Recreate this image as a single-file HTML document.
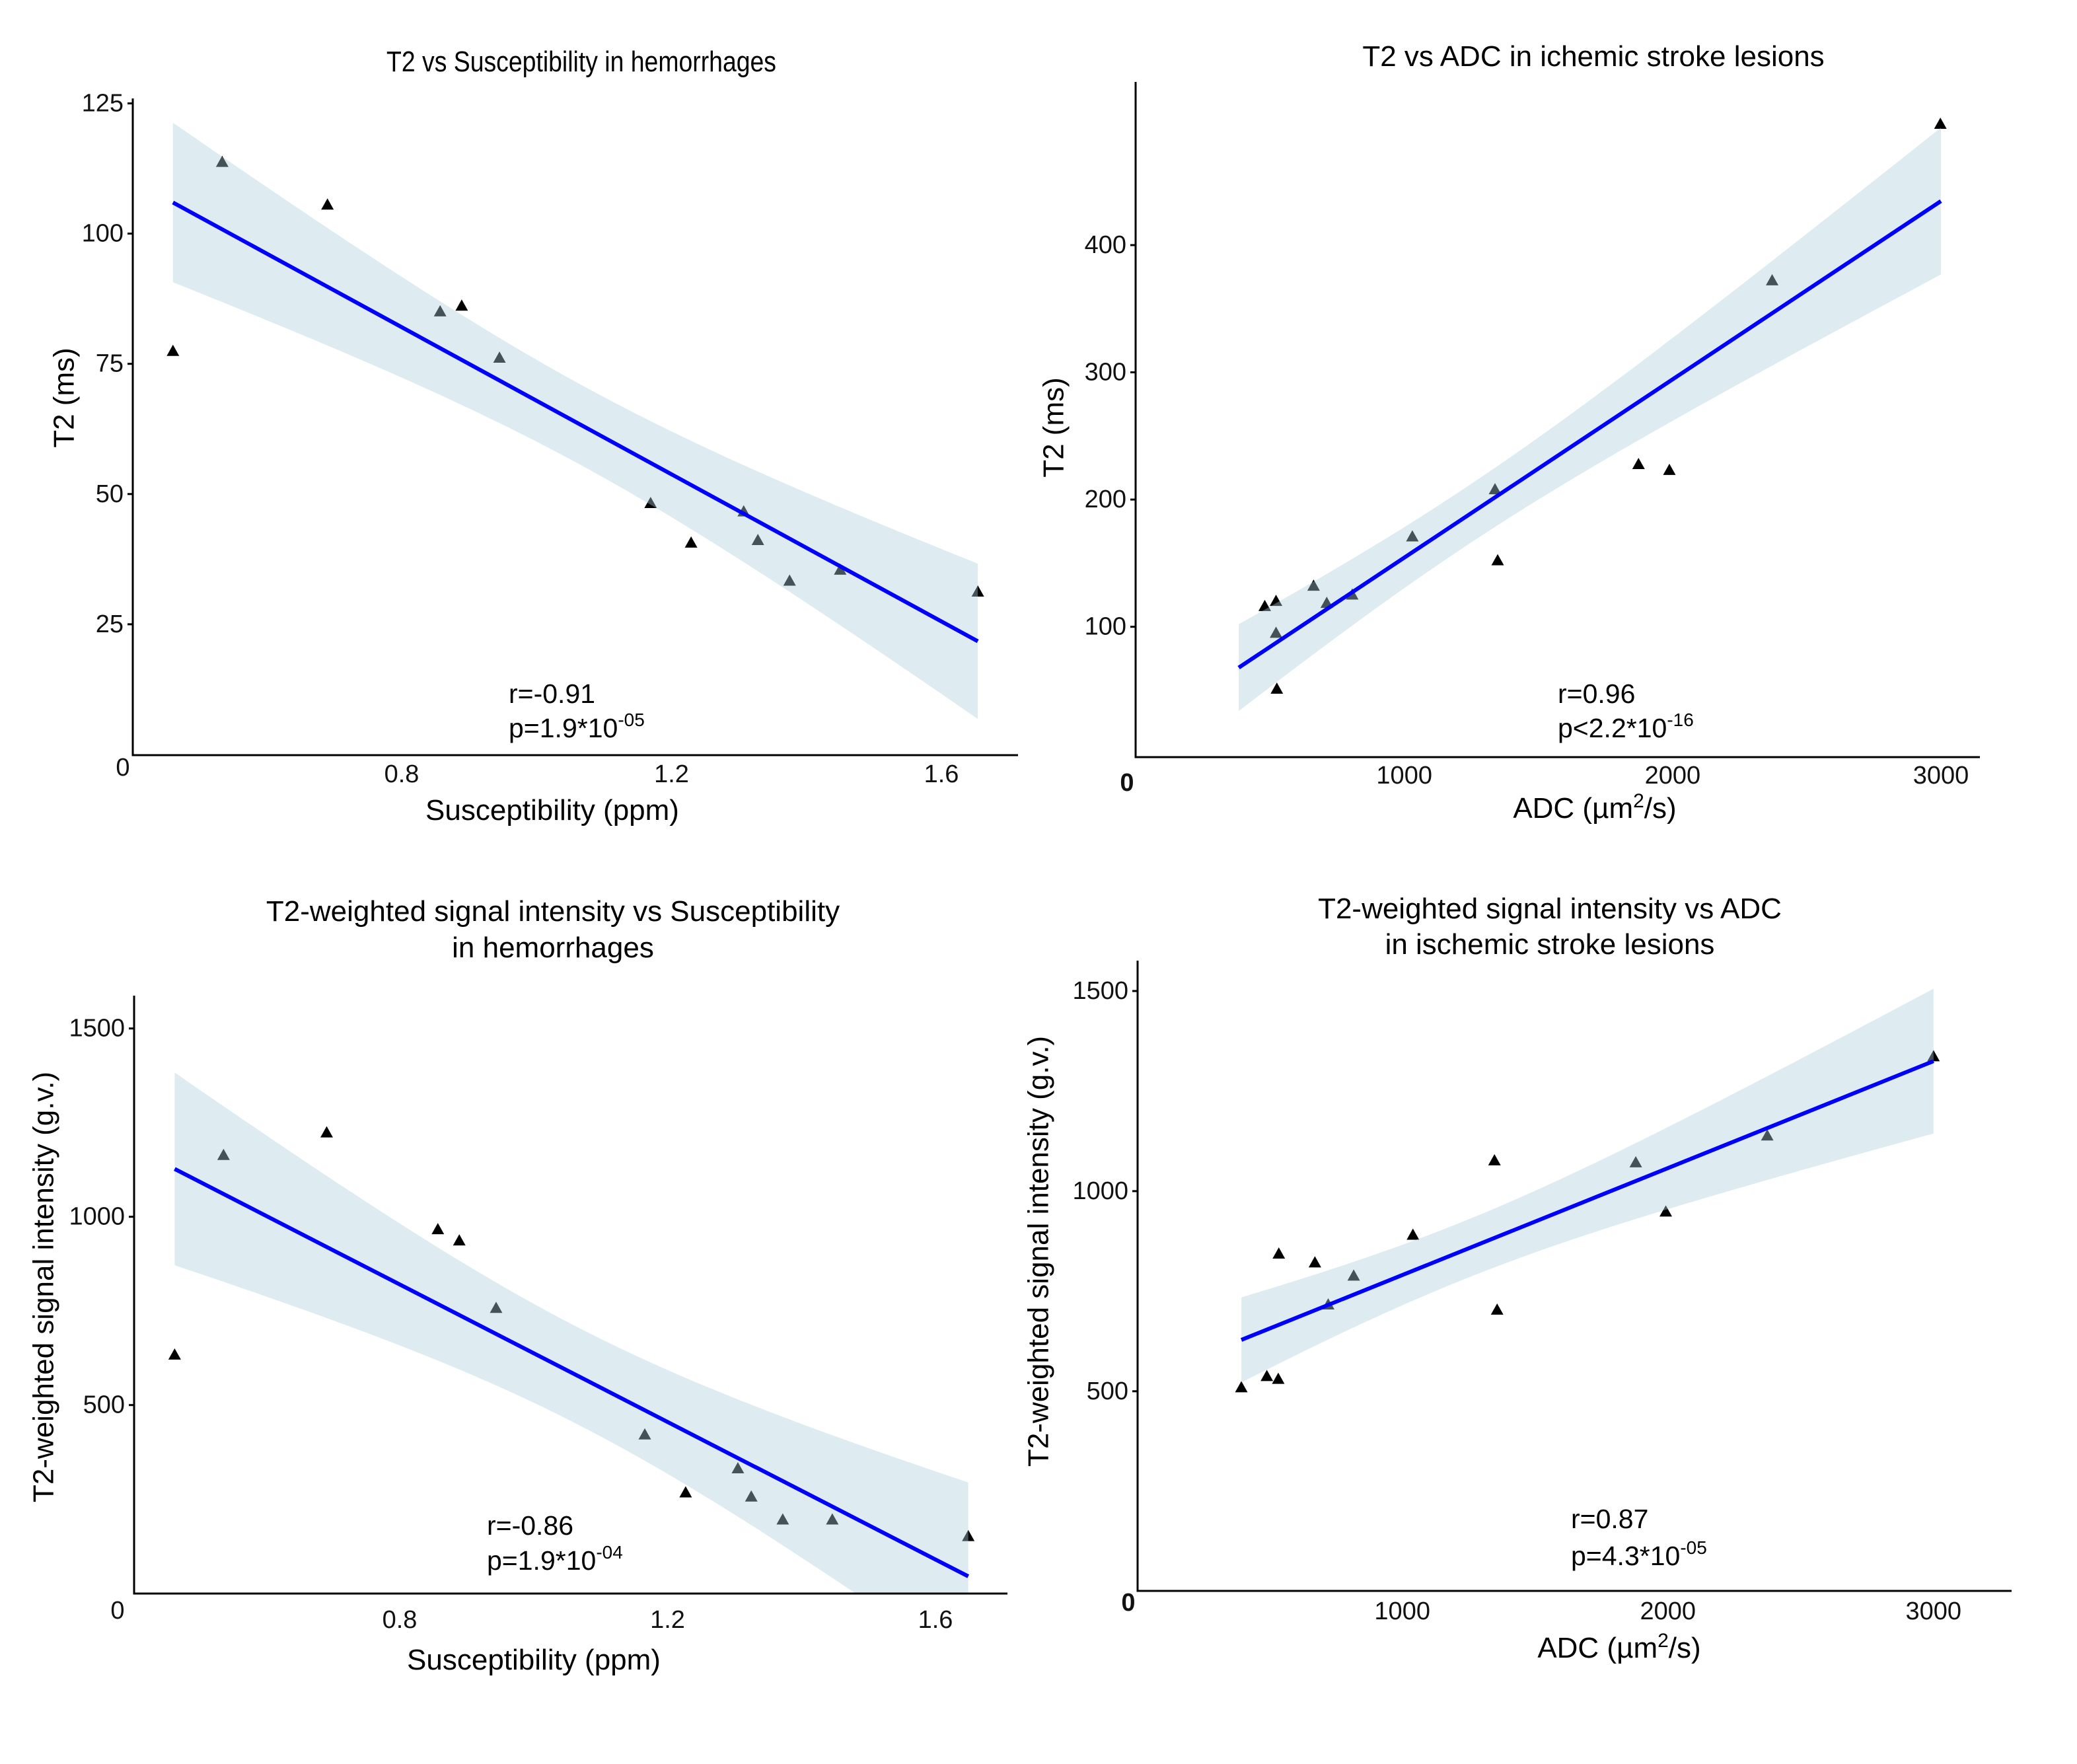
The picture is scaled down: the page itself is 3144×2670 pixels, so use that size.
<!DOCTYPE html>
<html><head><meta charset="utf-8">
<style>
html,body{margin:0;padding:0;background:#fff;}
svg{display:block;font-family:"Liberation Sans",Arial,sans-serif;}
</style></head>
<body>
<svg id="fig" width="3144" height="2670" viewBox="0 0 3144 2670" xmlns="http://www.w3.org/2000/svg">
<rect width="3144" height="2670" fill="#fff"/>
</svg>
<script>
// ---- Panel A: T2 vs Susceptibility (hemorrhages)
const hemSusc = [0.461,0.534,0.690,0.857,0.889,0.945,1.169,1.229,1.307,1.328,1.375,1.450,1.654];
const hemT2 = [77.4,113.7,105.5,85.0,86.1,76.1,48.2,40.6,46.6,41.1,33.3,35.4,31.2];
// ---- Panel C: T2w signal vs Susceptibility (hemorrhages)
const hemSuscB = [0.464,0.537,0.691,0.857,0.889,0.944,1.166,1.227,1.305,1.325,1.372,1.446,1.649];
const hemSignal = [633,1163,1223,966,936,757,421,267,331,256,195,195,151];
// ---- Panel B: T2 vs ADC (ischemic)
const iscADC = [480,522,522,525,662,711,806,1030,1338,1348,1873,1988,2371,2998];
const iscT2 = [116,120,95,51,132,118.5,125,170.7,207.8,152,227.6,223,372,495];
const iscT2FitRange = [383,3000];
// ---- Panel D: T2w signal vs ADC (ischemic)
const iscADCB = [394,490,533,535,671,721,817,1040,1347,1357,1879,1992,2374,3000];
const iscSignal = [509,537,530,843,821,716,788,890,1076,703,1071,948,1138,1336];
// ---- tick labels
const ticksT2A = [25,50,75,100,125];
const ticksT2B = [100,200,300,400];
const ticksSig = [500,1000,1500];
const ticksSusc = ["0.8","1.2","1.6"];
const ticksADC = ["1000","2000","3000"];

const NS = "http://www.w3.org/2000/svg";
const svg = document.getElementById('fig');
function mk(tag, attrs, parent){
  const e = document.createElementNS(NS, tag);
  for (const k in attrs) e.setAttribute(k, attrs[k]);
  (parent||svg).appendChild(e);
  return e;
}
function lin(v0,p0,v1,p1){ return v => p0 + (v - v0) * (p1 - p0) / (v1 - v0); }

function fit(xs, ys, tq){
  const n = xs.length;
  const mx = xs.reduce((a,b)=>a+b,0)/n, my = ys.reduce((a,b)=>a+b,0)/n;
  let sxx=0, sxy=0;
  for (let i=0;i<n;i++){ sxx += (xs[i]-mx)**2; sxy += (xs[i]-mx)*(ys[i]-my); }
  const b = sxy/sxx, a = my - b*mx;
  let sse = 0;
  for (let i=0;i<n;i++) sse += (ys[i]-a-b*xs[i])**2;
  const s = Math.sqrt(sse/(n-2));
  return {a, b, se: x => tq * s * Math.sqrt(1/n + (x-mx)**2/sxx)};
}

function panel(p){
  const g = mk('g', {});
  
  
  const X = lin(p.xv0, p.xp0, p.xv1, p.xp1);
  const Y = lin(p.yv0, p.yp0, p.yv1, p.yp1);
  const pts = mk('g', {}, g);
  
  
  p.xs.forEach((xv, i) => {
    const cx = X(xv), cy = Y(p.ys[i]);
    const t = mk('polygon', {points: `${cx},${cy-10} ${cx-9.5},${cy+7} ${cx+9.5},${cy+7}`, fill: '#000'}, pts);
    
    
  });
  const f = fit(p.xs, p.ys, p.tq);
  const xmin = p.range ? p.range[0] : Math.min(...p.xs);
  const xmax = p.range ? p.range[1] : Math.max(...p.xs);
  const N = 80, up = [], lo = [];
  for (let k=0;k<=N;k++){
    const xv = xmin + (xmax - xmin) * k / N;
    const yh = f.a + f.b * xv, e = f.se(xv);
    up.push(`${X(xv).toFixed(1)},${Y(yh+e).toFixed(1)}`);
    lo.unshift(`${X(xv).toFixed(1)},${Y(yh-e).toFixed(1)}`);
  }
  const clip = mk('clipPath', {id: p.name + '-clip'}, g);
  mk('rect', {x: p.ax, y: p.top, width: p.right - p.ax, height: p.ay - p.top}, clip);
  const band = mk('polygon', {points: up.concat(lo).join(' '), fill: 'rgb(173,207,222)', 'fill-opacity': 0.4, 'clip-path': `url(#${p.name}-clip)`}, g);
  
  
  const ln = mk('line', {x1: X(xmin), y1: Y(f.a + f.b*xmin), x2: X(xmax), y2: Y(f.a + f.b*xmax), stroke: '#0000ff', 'stroke-width': 6}, g);
  
  
  const ya = mk('line', {x1: p.ax, y1: p.top, x2: p.ax, y2: p.ay + 1.5, stroke: '#000', 'stroke-width': 3}, g);
  
  
  const xa = mk('line', {x1: p.ax - 1.5, y1: p.ay, x2: p.right, y2: p.ay, stroke: '#000', 'stroke-width': 3}, g);
  
  
  p.yticks.forEach(v => {
    const y = Y(v);
    const tk = mk('line', {x1: p.ax - 8, y1: y, x2: p.ax, y2: y, stroke: '#000', 'stroke-width': 3}, g);
    
    
    const tl = mk('text', {x: p.ax - 14, y: y, 'font-size': 38, 'text-anchor': 'end', 'dominant-baseline': 'central', fill: '#111'}, g);
    tl.textContent = v;
    
    
  });
  p.xticks.forEach(s => {
    const tl = mk('text', {x: X(parseFloat(s)), y: p.xlabY, 'font-size': 38, 'text-anchor': 'middle', 'dominant-baseline': 'central', fill: '#111'}, g);
    tl.textContent = s;
    
    
  });
  const z = mk('text', {x: p.zero[0], y: p.zero[1], 'font-size': 38, 'text-anchor': 'middle', 'dominant-baseline': 'central', 'font-weight': p.zeroBold ? 'bold' : 'normal', fill: '#111'}, g);
  z.textContent = '0';
  
  
  p.title.forEach((t, i) => {
    const attrs = {x: p.titleX, y: p.titleY[i], 'font-size': p.titleSize, 'text-anchor': 'middle', fill: '#000'};
    if (p.titleLen) { attrs.textLength = p.titleLen; attrs.lengthAdjust = 'spacingAndGlyphs'; }
    const te = mk('text', attrs, g);
    te.textContent = t;
    
    
  });
  const xt = mk('text', {x: p.xtX, y: p.xtY, 'font-size': 44, 'text-anchor': 'middle', fill: '#000'}, g);
  xt.innerHTML = p.xtitle;
  
  
  const yt = mk('text', {x: 0, y: 0, 'font-size': 44, 'text-anchor': 'middle', 'dominant-baseline': 'central', fill: '#000', transform: `translate(${p.ytX},${p.ytY}) rotate(-90)`}, g);
  yt.textContent = p.ytitle;
  
  
  const r = mk('text', {x: p.annX, y: p.annY[0], 'font-size': 41, fill: '#000'}, g);
  r.textContent = p.rtxt;
  
  
  const pv = mk('text', {x: p.annX, y: p.annY[1], 'font-size': 41, fill: '#000'}, g);
  pv.innerHTML = p.ptxt + `<tspan font-size="28" dy="-17">${p.pexp}</tspan>`;
  
  
}

const adcTitle = 'ADC (µm<tspan font-size="30" dy="-16">2</tspan><tspan dy="16">/s)</tspan>';

panel({name:'panel-t2-susceptibility', xs: hemSusc, ys: hemT2, tq: 2.201,
  xv0:0.8, xp0:608, xv1:1.6, xp1:1425, yv0:0, yp0:1142, yv1:100, yp1:353.6,
  ax:201, ay:1143, top:149, right:1541, yticks: ticksT2A, xticks: ticksSusc, xlabY:1172,
  zero:[186,1162], zeroBold:false,
  title:['T2 vs Susceptibility in hemorrhages'], titleSize:44, titleLen:590, titleX:880, titleY:[108],
  xtitle:'Susceptibility (ppm)', xtX:836, xtY:1241, ytitle:'T2 (ms)', ytX:97, ytY:602,
  annX:770, annY:[1064,1116], rtxt:'r=-0.91', ptxt:'p=1.9*10', pexp:'-05'});

panel({name:'panel-t2-adc', xs: iscADC, ys: iscT2, tq: 2.179, range: iscT2FitRange,
  xv0:1000, xp0:2125.7, xv1:3000, xp1:2938, yv0:100, yp0:948.7, yv1:400, yp1:371,
  ax:1719, ay:1146, top:124, right:2997, yticks: ticksT2B, xticks: ticksADC, xlabY:1174,
  zero:[1706,1185], zeroBold:true,
  title:['T2 vs ADC in ichemic stroke lesions'], titleSize:44, titleX:2412, titleY:[100],
  xtitle: adcTitle, xtX:2414, xtY:1238, ytitle:'T2 (ms)', ytX:1595, ytY:647,
  annX:2358, annY:[1064,1116], rtxt:'r=0.96', ptxt:'p<2.2*10', pexp:'-16'});

panel({name:'panel-signal-susceptibility', xs: hemSuscB, ys: hemSignal, tq: 2.201,
  xv0:0.8, xp0:605, xv1:1.6, xp1:1416, yv0:500, yp0:2126.7, yv1:1500, yp1:1556.7,
  ax:203, ay:2412, top:1507, right:1525, yticks: ticksSig, xticks: ticksSusc, xlabY:2452,
  zero:[178,2438], zeroBold:false,
  title:['T2-weighted signal intensity vs Susceptibility','in hemorrhages'], titleSize:44, titleX:837, titleY:[1394,1449],
  xtitle:'Susceptibility (ppm)', xtX:808, xtY:2527, ytitle:'T2-weighted signal intensity (g.v.)', ytX:66, ytY:1948,
  annX:737, annY:[2323,2376], rtxt:'r=-0.86', ptxt:'p=1.9*10', pexp:'-04'});

panel({name:'panel-signal-adc', xs: iscADCB, ys: iscSignal, tq: 2.179,
  xv0:1000, xp0:2122.7, xv1:3000, xp1:2926.8, yv0:500, yp0:2105.8, yv1:1500, yp1:1500,
  ax:1722, ay:2408, top:1454, right:3045, yticks: ticksSig, xticks: ticksADC, xlabY:2439,
  zero:[1708,2426], zeroBold:true,
  title:['T2-weighted signal intensity vs ADC','in ischemic stroke lesions'], titleSize:44, titleX:2346, titleY:[1390,1444],
  xtitle: adcTitle, xtX:2451, xtY:2509, ytitle:'T2-weighted signal intensity (g.v.)', ytX:1572, ytY:1894,
  annX:2378, annY:[2313,2369], rtxt:'r=0.87', ptxt:'p=4.3*10', pexp:'-05'});
</script>
</body></html>
